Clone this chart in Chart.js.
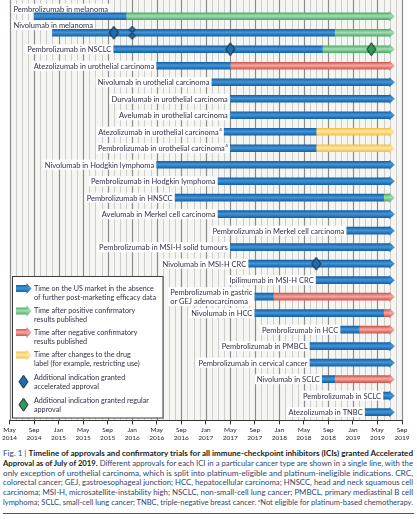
<!DOCTYPE html>
<html><head><meta charset="utf-8">
<script src="https://cdn.jsdelivr.net/npm/chart.js@4.4.1/dist/chart.umd.min.js"></script>
<style>
html,body{margin:0;padding:0;background:#fff;width:417px;height:519px;overflow:hidden}
#wrap{position:relative;width:417px;height:519px}
#c{position:absolute;left:0;top:0}
#cap{position:absolute;left:3px;top:449px;width:411px;font-family:Lato,'Open Sans',sans-serif;font-size:7px;color:#30456e}
#cap div{height:9.8px;line-height:9.8px;white-space:nowrap;transform-origin:0 50%}
#cap b{color:#1b1b1b}
#cap sup{font-size:4.5px;vertical-align:3px;line-height:0}
#rule{position:absolute;left:3px;top:513px;width:411px;height:0;border-top:1px solid #555}
</style></head>
<body><div id="wrap">
<canvas id="c" width="417" height="446"></canvas>
<div id="cap">
<div><span>Fig. 1 | <b>Timeline of approvals and confirmatory trials for all immune-checkpoint inhibitors (ICIs) granted Accelerated</b></span></div>
<div><span><b>Approval as of July of 2019.</b> Different approvals for each ICI in a particular cancer type are shown in a single line, with the</span></div>
<div><span>only exception of urothelial carcinoma, which is split into platinum-eligible and platinum-ineligible indications. CRC,</span></div>
<div><span>colorectal cancer; GEJ, gastroesophageal junction; HCC, hepatocellular carcinoma; HNSCC, head and neck squamous cell</span></div>
<div><span>carcinoma; MSI-H, microsatellite-instability high; NSCLC, non-small-cell lung cancer; PMBCL, primary mediastinal B cell</span></div>
<div><span>lymphoma; SCLC, small-cell lung cancer; TNBC, triple-negative breast cancer. <sup>a</sup>Not eligible for platinum-based chemotherapy.</span></div>
</div>
<div id="rule"></div>
</div>
<script>
// ---- DATA (months counted from May 2014 = 0) ----
const rowLabels = [
  'Pembrolizumab in melanoma',
  'Nivolumab in melanoma',
  'Pembrolizumab in NSCLC',
  'Atezolizumab in urothelial carcinoma',
  'Nivolumab in urothelial carcinoma',
  'Durvalumab in urothelial carcinoma',
  'Avelumab in urothelial carcinoma',
  'Atezolizumab in urothelial carcinomaᵃ',
  'Pembrolizumab in urothelial carcinomaᵃ',
  'Nivolumab in Hodgkin lymphoma',
  'Pembrolizumab in Hodgkin lymphoma',
  'Pembrolizumab in HNSCC',
  'Avelumab in Merkel cell carcinoma',
  'Pembrolizumab in Merkel cell carcinoma',
  'Pembrolizumab in MSI-H solid tumours',
  'Nivolumab in MSI-H CRC',
  'Ipilimumab in MSI-H CRC',
  'Pembrolizumab in gastric or GEJ adenocarcinoma',
  'Nivolumab in HCC',
  'Pembrolizumab in HCC',
  'Pembrolizumab in PMBCL',
  'Pembrolizumab in cervical cancer',
  'Nivolumab in SCLC',
  'Pembrolizumab in SCLC',
  'Atezolizumab in TNBC'
];
const startMonth  = [4, 7, 17, 24, 33, 36, 36, 35, 36, 24, 34, 27, 34, 55, 36, 39, 50, 40, 40, 54, 49, 49, 51, 61, 58];
const switchMonth = [19, 53, 51, 36, null, null, null, 50, 50, null, null, 61, null, null, null, null, null, 43, 61, 57, null, null, 53, null, null];
const laterPhase  = ['positive','positive','positive','negative',null,null,null,'labelChange','labelChange',null,null,'positive',null,null,null,null,null,'negative','negative','negative',null,null,'negative',null,null];
const cutoffMonth = 62; // July 2019

const accelRows   = [1, 1, 2, 15];
const accelMonths = [17, 20, 36, 50];
const accelCount  = [1, 2, 1, 1];
const regularRows   = [2];
const regularMonths = [59];

const tickLabels = [
  ['May','2014'],['Sep','2014'],['Jan','2015'],['May','2015'],['Sep','2015'],['Jan','2016'],
  ['May','2016'],['Sep','2016'],['Jan','2017'],['May','2017'],['Sep','2017'],['Jan','2018'],
  ['May','2018'],['Sep','2018'],['Jan','2019'],['May','2019'],['Sep','2019']
];

const legendTexts = [
  ['Time on the US market in the absence','of further post-marketing efficacy data'],
  ['Time after positive confirmatory','results published'],
  ['Time after negative confirmatory','results published'],
  ['Time after changes to the drug','label (for example, restricting use)'],
  ['Additional indication granted','accelerated approval'],
  ['Additional indication granted regular','approval']
];

// ---- STYLE ----
const FONT = 'Lato, "Open Sans", sans-serif';
const TEXT = '#303149';
const phaseColors = {
  accelerated: ['#1462a8', '#4495d8'],
  positive:    ['#4bab69', '#a6ddb3'],
  negative:    ['#d1574f', '#f1aba4'],
  labelChange: ['#f4c246', '#fde7a8']
};
const BAR_H = 7;

function grad(ctx, y, phase, h) {
  const c = phaseColors[phase];
  const g = ctx.createLinearGradient(0, y - h/2, 0, y + h/2);
  g.addColorStop(0, c[0]); g.addColorStop(0.45, c[1]); g.addColorStop(1, c[0]);
  return g;
}
function barColor(phaseOf) {
  return (context) => {
    const chart = context.chart;
    const phase = phaseOf(context.dataIndex);
    if (!phase) return 'rgba(0,0,0,0)';
    const ys = chart.scales && chart.scales.y;
    if (!ys || context.type !== 'data' || !chart.chartArea) return phaseColors[phase][0];
    return grad(chart.ctx, ys.getPixelForValue(context.dataIndex), phase, BAR_H);
  };
}
function diamondCanvas(fill, w, h, count) {
  const cv = document.createElement('canvas');
  cv.width = w + 2; cv.height = h + 2;
  const c = cv.getContext('2d');
  c.fillStyle = fill; c.strokeStyle = '#15202c'; c.lineWidth = 1;
  const cx = cv.width / 2;
  const parts = count === 2 ? [[1 + h/4, h/4, w*0.7], [1 + 3*h/4, h/4, w*0.7]] : [[1 + h/2, h/2, w]];
  parts.forEach(([cy, hh, ww]) => {
    c.beginPath();
    c.moveTo(cx, cy - hh); c.lineTo(cx + ww/2, cy); c.lineTo(cx, cy + hh); c.lineTo(cx - ww/2, cy); c.closePath();
    c.fill(); c.stroke();
  });
  return cv;
}
const ACCEL_FILL = '#1f6db0', REG_FILL = '#2b9a55';

const labelBreaks = {17: ['Pembrolizumab in gastric', 'or GEJ adenocarcinoma']};
const labelAbove = new Set([0, 1]);

function drawText(ctx, text, x, y) {
  // handles trailing superscript 'ᵃ'
  let sup = false;
  if (text.endsWith('ᵃ')) { sup = true; text = text.slice(0, -1); }
  ctx.font = '7.5px ' + FONT;
  ctx.fillText(text, x, y);
  let w = ctx.measureText(text).width;
  if (sup) {
    ctx.font = '5px ' + FONT;
    ctx.fillText('a', x + w + 0.5, y - 3);
    w += ctx.measureText('a').width + 0.5;
  }
  return w;
}
function textWidth(ctx, text) {
  let sup = false;
  if (text.endsWith('ᵃ')) { sup = true; text = text.slice(0, -1); }
  ctx.font = '7.5px ' + FONT;
  let w = ctx.measureText(text).width;
  if (sup) { ctx.font = '5px ' + FONT; w += ctx.measureText('a').width + 0.5; }
  return w;
}

const decor = {
  id: 'decor',
  beforeDraw(chart) {
    const ctx = chart.ctx, xs = chart.scales.x, bottom = chart.chartArea.bottom;
    ctx.save();
    ctx.fillStyle = '#f5f5f2';
    ctx.fillRect(xs.getPixelForValue(0), 0, xs.getPixelForValue(64) - xs.getPixelForValue(0), bottom);
    for (let m = 0; m <= 64; m++) {
      const x = Math.round(xs.getPixelForValue(m)) + 0.5;
      ctx.strokeStyle = m % 4 === 0 ? '#8c8c8c' : '#cdcdcd';
      ctx.lineWidth = m % 4 === 0 ? 1.2 : 1;
      ctx.beginPath(); ctx.moveTo(x, 0); ctx.lineTo(x, bottom); ctx.stroke();
    }
    ctx.restore();
  },
  beforeDatasetsDraw(chart) {
    const ctx = chart.ctx, xs = chart.scales.x, ys = chart.scales.y;
    ctx.save();
    ctx.textBaseline = 'middle';
    ctx.textAlign = 'left';
    rowLabels.forEach((lab, i) => {
      const y = ys.getPixelForValue(i);
      const xs0 = xs.getPixelForValue(startMonth[i]);
      const lines = labelBreaks[i] || [lab];
      const w = Math.max(...lines.map(l => textWidth(ctx, l)));
      let left, ty;
      if (labelAbove.has(i)) { left = xs.getPixelForValue(0) + 4; ty = y - 7.5; }
      else { left = xs0 - 2.5 - w; ty = y - (lines.length - 1) * 4.5; }
      ctx.fillStyle = '#ffffff';
      ctx.fillRect(left - 2, ty - 5, w + 4, 10 + (lines.length - 1) * 9);
      ctx.fillStyle = TEXT;
      lines.forEach((l, k) => drawText(ctx, l, left, ty + k * 9 + 0.5));
    });
    ctx.restore();
  },
  afterDatasetsDraw(chart) {
    // arrow heads at the data cutoff
    const ctx = chart.ctx;
    const m0 = chart.getDatasetMeta(0), m1 = chart.getDatasetMeta(1);
    ctx.save();
    rowLabels.forEach((lab, i) => {
      const el = switchMonth[i] != null ? m1.data[i] : m0.data[i];
      const phase = switchMonth[i] != null ? laterPhase[i] : 'accelerated';
      const x = el.x, y = el.y;
      ctx.fillStyle = grad(ctx, y, phase, 10);
      ctx.beginPath(); ctx.moveTo(x - 0.5, y - 5); ctx.lineTo(x + 5, y); ctx.lineTo(x - 0.5, y + 5); ctx.closePath(); ctx.fill();
    });
    ctx.restore();
  },
  afterDraw(chart) {
    const ctx = chart.ctx;
    ctx.save();
    const bx = 12.5, by = 276.5, bw = 150.5, bh = 141.5;
    ctx.fillStyle = '#ffffff'; ctx.fillRect(bx, by, bw, bh);
    ctx.strokeStyle = '#3a3a3a'; ctx.lineWidth = 1; ctx.strokeRect(bx, by, bw, bh);
    const itemY = [288.5, 311, 332.5, 355, 377.5, 400.5];
    const phases = ['accelerated', 'positive', 'negative', 'labelChange'];
    ctx.textBaseline = 'middle'; ctx.textAlign = 'left';
    legendTexts.forEach((lines, k) => {
      const y = itemY[k];
      if (k < 4) {
        const p = phases[k];
        ctx.fillStyle = grad(ctx, y, p, 7);
        ctx.fillRect(16, y - 3.5, 11, 7);
        ctx.fillStyle = grad(ctx, y, p, 11);
        ctx.beginPath(); ctx.moveTo(26.5, y - 5.5); ctx.lineTo(31.5, y); ctx.lineTo(26.5, y + 5.5); ctx.closePath(); ctx.fill();
      } else {
        const cv = diamondCanvas(k === 4 ? ACCEL_FILL : REG_FILL, 9, 13, 1);
        ctx.drawImage(cv, 23.5 - cv.width / 2, y + 4.25 - cv.height / 2);
      }
      ctx.fillStyle = TEXT;
      ctx.font = '7.2px ' + FONT;
      lines.forEach((l, j) => {
        const target = 160 - 34;
        const w = ctx.measureText(l).width;
        ctx.save();
        ctx.translate(34, y + j * 8.7);
        if (w > target) ctx.scale(target / w, 1);
        ctx.fillText(l, 0, 0);
        ctx.restore();
      });
    });
    ctx.restore();
  }
};

const accelStyles = accelCount.map(n => diamondCanvas(ACCEL_FILL, 9, 13, n));
const regularStyles = regularMonths.map(() => diamondCanvas(REG_FILL, 9, 13, 1));

new Chart(document.getElementById('c'), {
  type: 'bar',
  data: {
    labels: rowLabels,
    datasets: [
      {
        label: 'Time on the US market in the absence of further post-marketing efficacy data',
        data: rowLabels.map((l, i) => [startMonth[i], switchMonth[i] != null ? switchMonth[i] : cutoffMonth]),
        backgroundColor: barColor(() => 'accelerated'),
        barThickness: BAR_H, grouped: false, borderWidth: 0, order: 2
      },
      {
        label: 'Time after confirmatory results or label changes',
        data: rowLabels.map((l, i) => switchMonth[i] != null ? [switchMonth[i], cutoffMonth] : null),
        backgroundColor: barColor(i => laterPhase[i]),
        barThickness: BAR_H, grouped: false, borderWidth: 0, order: 2
      },
      {
        type: 'scatter',
        label: 'Additional indication granted accelerated approval',
        data: accelRows.map((r, k) => ({x: accelMonths[k], y: rowLabels[r]})),
        pointStyle: accelStyles, pointRadius: 6, order: 1
      },
      {
        type: 'scatter',
        label: 'Additional indication granted regular approval',
        data: regularRows.map((r, k) => ({x: regularMonths[k], y: rowLabels[r]})),
        pointStyle: regularStyles, pointRadius: 6, order: 1
      }
    ]
  },
  options: {
    indexAxis: 'y',
    responsive: false,
    animation: false,
    events: [],
    layout: {padding: {top: 8, left: 9, right: 15, bottom: 2}},
    plugins: {legend: {display: false}, tooltip: {enabled: false}},
    scales: {
      y: {type: 'category', labels: rowLabels, display: false, offset: true},
      x: {
        type: 'linear', min: 0, max: 64, position: 'bottom',
        ticks: {stepSize: 4, autoSkip: false, maxRotation: 0, padding: 2, color: '#24253a',
          font: {family: FONT, size: 6.5, lineHeight: 1.2},
          callback: (v) => tickLabels[Math.round(v / 4)]},
        grid: {drawOnChartArea: false, drawTicks: true, tickLength: 4, color: '#333', tickColor: '#333'},
        border: {display: true, color: '#333', width: 1}
      }
    }
  },
  plugins: [decor]
});

// fit caption lines to full width
document.querySelectorAll('#cap div').forEach(d => {
  const s = d.querySelector('span');
  const w = s.getBoundingClientRect().width;
  if (w > 0) d.style.transform = 'scaleX(' + (410 / w) + ')';
});
</script>
</body></html>
